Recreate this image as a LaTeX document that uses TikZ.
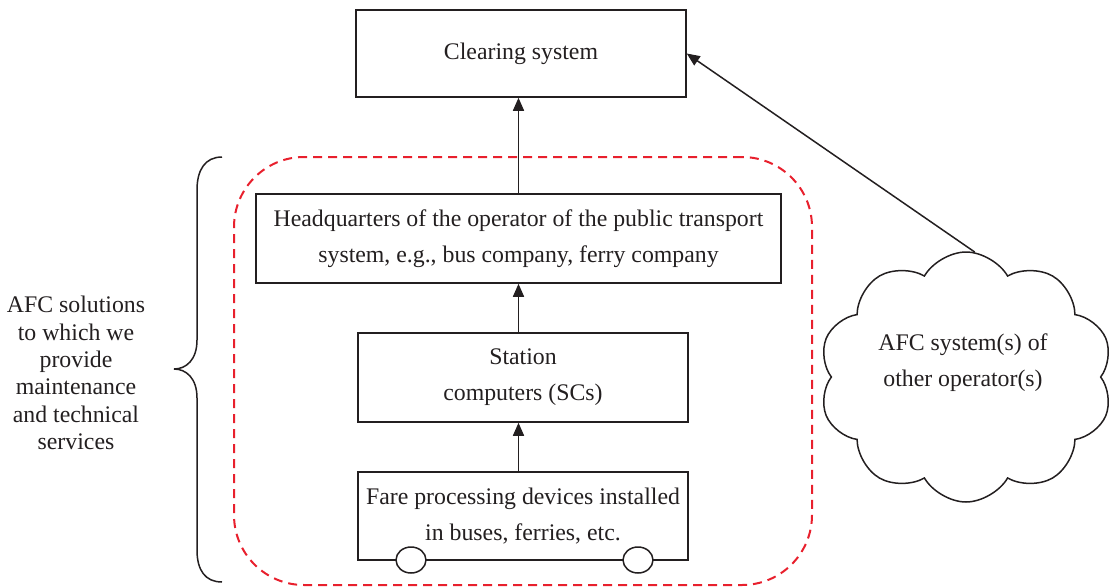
\documentclass[tikz,border=0pt]{standalone}
\usepackage{fontspec}
\setmainfont{Liberation Serif}
\usetikzlibrary{arrows.meta,shapes.symbols,shapes.geometric}
\definecolor{ink}{RGB}{35,31,32}
\definecolor{dashred}{RGB}{232,32,45}
\tikzset{
  box/.style={draw=ink, line width=1.5pt, align=center, inner sep=0pt, text=ink},
  wheel/.style={draw=ink, line width=1.5pt, fill=white, ellipse, minimum width=30, minimum height=26, inner sep=0pt},
  arr/.style={draw=ink, line width=1.5pt, -{Triangle[length=13pt,width=11pt]}},
}
\begin{document}
\begin{tikzpicture}[x=1pt,y=-1pt, font=\fontsize{23.8}{36}\selectfont]
\useasboundingbox (0,0) rectangle (1114,587);
% group outline
\node[draw=dashred, line width=2pt, dash pattern=on 9pt off 6pt, rounded corners=70pt,
      minimum width=578, minimum height=428, inner sep=0pt] (grp) at (523,371) {};
% boxes
\node[box, minimum width=330, minimum height=87] (clear) at (521,53.5) {Clearing system};
\node[box, minimum width=525, minimum height=89] (hq) at (518.5,238.5)
  {Headquarters of the operator of the public transport\\system, e.g., bus company, ferry company};
\node[box, minimum width=330, minimum height=89] (st) at (523,377.5) {Station\\computers (SCs)};
\node[box, minimum width=330, minimum height=88] (fare) at (523,516) {Fare processing devices installed\\in buses, ferries, etc.};
\node[wheel] (w1) at (411,560) {};
\node[wheel] (w2) at (638,560) {};
% arrows
\draw[arr] (hq.north) -- (clear.south -| hq.north);
\draw[arr] (st.north -| hq.south) -- (hq.south);
\draw[arr] (fare.north -| hq.south) -- (st.south -| hq.south);
% cloud
\node[cloud, draw=ink, line width=1.5pt, cloud puffs=10, cloud puff arc=120, aspect=1.2,
      minimum width=294, minimum height=250, inner sep=0pt] (cld) at (966,377) {};
\node[align=center, text=ink] (cldtext) at (963,363) {AFC system(s) of\\other operator(s)};
\draw[arr] (cld.86) -- (clear.east);
% brace
\draw[ink, line width=1.5pt] (222,157) .. controls (205,157) and (197,170) .. (197,190) -- (197,340)
  .. controls (197,360) and (186,369) .. (174,369) .. controls (186,369) and (197,378) .. (197,398)
  -- (197,550) .. controls (197,570) and (205,582) .. (222,582);
\node[align=center, text=ink, font=\fontsize{23.8}{27.4}\selectfont] (lbl) at (76,373)
  {AFC solutions\\to which we\\provide\\maintenance\\and technical\\services};
\end{tikzpicture}
\end{document}
